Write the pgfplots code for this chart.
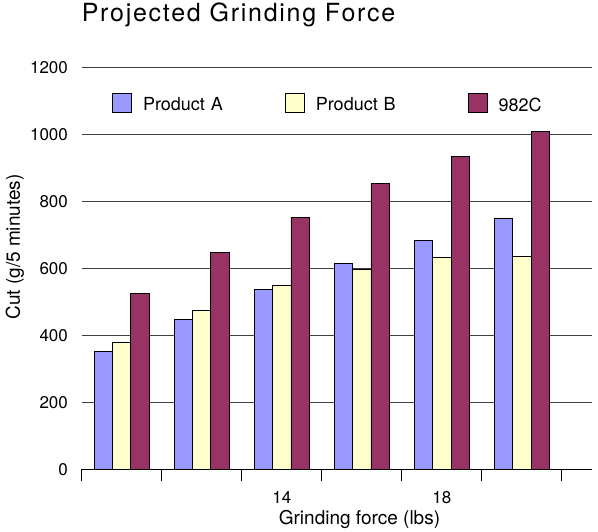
\documentclass[border=0pt]{standalone}
\usepackage{fontspec}
\setmainfont{TeX Gyre Heros}
\newfontfamily\titlefont[LetterSpace=7]{TeX Gyre Heros}
\usepackage{pgfplots}
\pgfplotsset{compat=1.18}
\definecolor{prodA}{HTML}{9999FF}
\definecolor{prodB}{HTML}{FFFFCC}
\definecolor{ccc}{HTML}{993366}

\pgfplotsset{
  boxlegend/.style={legend image code/.code={%
    \draw[##1, line width=0.8pt] (0pt,-1pt) rectangle (19pt,18pt);}},
}

\begin{document}
\begin{tikzpicture}[x=1pt,y=1pt]
\useasboundingbox (0,0) rectangle (598,532);
\begin{axis}[
  at={(81.6pt,62.5pt)}, anchor=south west,
  scale only axis, width=510.4pt, height=402pt,
  ybar=0pt, bar width=18.3pt,
  xmin=0.5, xmax=6.875, ymin=0, ymax=1200,
  ytick={0,200,...,1200},
  ymajorgrids, grid style={black!75, line width=1pt},
  axis x line*=bottom, axis y line*=left,
  y axis line style={draw=none},
  x axis line style={black, line width=1.2pt},
  ytick style={draw=none},
  ytick align=inside,
  xtick={0.5,1.5,...,6.5}, xticklabels={},
  xtick align=outside, xtick style={black, line width=1pt},
  major tick length=12pt,
  extra x ticks={3,5}, extra x tick labels={14,18},
  extra x tick style={major tick length=0pt, grid=none,
    xticklabel style={anchor=north, inner sep=0pt, yshift=-22pt}},
  ticklabel style={font=\fontsize{17}{20}\selectfont},
  /pgf/number format/assume math mode=true,
  /pgf/number format/1000 sep={},
  yticklabel style={anchor=east, inner sep=0pt, xshift=-13.5pt},
  xlabel={Grinding force (lbs)},
  xlabel style={at={(axis description cs:0.5445,-0.1368)}, anchor=base,
    inner sep=0pt, font=\fontsize{19}{22}\selectfont},
  ylabel={Cut (g/5 minutes)},
  ylabel style={at={(axis description cs:-0.1207,0.5535)}, anchor=base,
    inner sep=0pt, font=\fontsize{19}{22}\selectfont},
  title={\titlefont Projected Grinding Force},
  title style={at={(axis description cs:0,1.0995)}, anchor=base west,
    inner sep=0pt, font=\fontsize{25}{28}\selectfont},
  legend style={at={(rel axis cs:0.0596,0.9378)}, anchor=north west,
    draw=none, fill=none, inner sep=0pt, legend columns=3,
    font=\fontsize{18}{21}\selectfont,
    /tikz/every odd column/.append style={column sep=11pt},
    /tikz/every even column/.append style={column sep=0pt}},
]
\addplot[fill=prodA, draw=black, line width=0.7pt, boxlegend]
  coordinates {(1,353) (2,449) (3,538) (4,615) (5,684) (6,751)};
\addlegendentry[inner sep=0pt, yshift=6pt, text width=142pt]{Product A}
\addplot[fill=prodB, draw=black, line width=0.7pt, boxlegend]
  coordinates {(1,381) (2,474) (3,549) (4,597) (5,633) (6,636)};
\addlegendentry[inner sep=0pt, yshift=6pt, text width=152pt]{Product B}
\addplot[fill=ccc, draw=black, line width=0.7pt, boxlegend]
  coordinates {(1,526) (2,648) (3,753) (4,853) (5,935) (6,1010)};
\addlegendentry[inner sep=0pt, yshift=6pt]{982C}
\end{axis}
\end{tikzpicture}
\end{document}
